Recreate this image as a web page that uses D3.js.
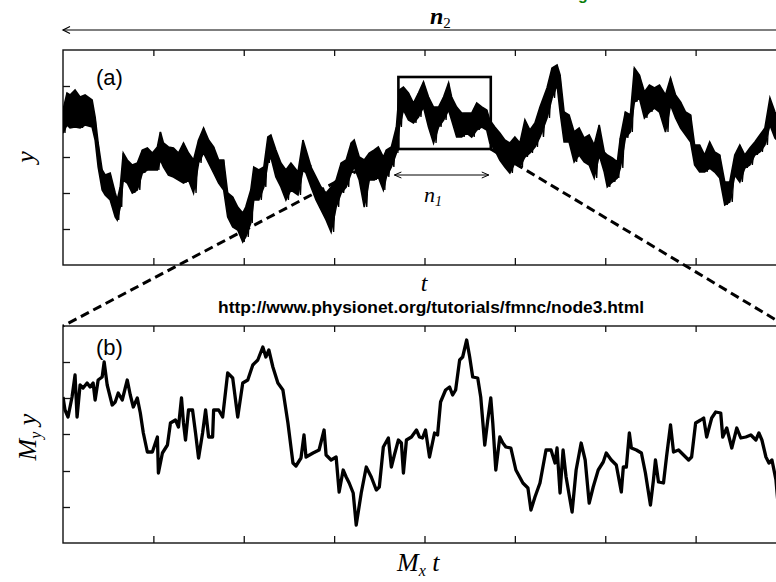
<!DOCTYPE html>
<html><head><meta charset="utf-8">
<script src="https://cdn.jsdelivr.net/npm/d3@7"></script>
<style>html,body{margin:0;padding:0;background:#fff;overflow:hidden}</style>
</head><body>
<svg id="c" width="776" height="582"></svg>
<script>
// Panel (a): time positions and upper / lower envelope of the noisy trace
const tA=[0,4,7,12,17,22,29,32,35,39,42,47,52,54,57,60,64,69,74,79,84,89,94,97,100,105,110,115,120,125,130,135,140,145,150,155,160,164,169,174,179,182,187,190,195,200,204,207,212,217,222,227,234,239,242,247,252,257,262,267,272,277,282,287,290,295,300,305,310,314,319,322,327,332,335,339,344,349,354,359,364,369,374,379,384,387,392,397,402,407,412,417,422,425,430,435,440,445,450,455,460,465,470,475,482,487,492,495,499,504,509,514,519,524,529,534,539,542,547,552,555,560,565,569,574,579,584,589,594,600,605,610,615,620,625,629,634,639,644,649,654,659,664,669,674,679,684,689,694,699,704,709,713,720];
const hiA=[155,172,170,175,168,170,165,148,122,95,90,92,72,65,78,112,105,100,102,115,117,112,118,133,122,118,117,112,122,112,105,125,137,125,118,105,105,72,68,58,52,58,75,98,95,98,128,130,115,102,95,102,93,125,115,98,88,78,72,78,85,102,105,122,125,108,105,112,115,118,108,115,118,138,175,178,172,162,172,183,168,158,158,168,182,168,158,152,152,152,162,158,155,145,138,132,125,122,128,122,145,135,142,158,177,197,200,190,153,150,133,137,127,130,120,140,113,110,107,103,127,153,150,197,190,173,180,177,180,170,187,170,163,153,150,120,120,110,123,113,110,83,83,110,120,110,117,123,130,137,167,153,143,140];
const loA=[132,140,137,138,137,140,138,125,98,75,70,65,48,45,58,85,82,72,75,92,95,95,95,105,98,90,88,85,82,85,72,102,112,102,92,82,75,48,38,35,23,28,42,65,65,78,102,108,88,78,65,75,70,95,92,78,65,55,45,33,58,72,78,92,98,85,58,85,85,88,75,88,98,112,138,155,145,142,148,158,138,122,138,145,155,145,128,128,132,128,135,138,135,122,115,105,98,92,102,98,108,112,118,128,147,167,180,153,123,123,103,110,103,100,87,110,93,78,83,87,97,127,133,163,167,147,153,157,153,133,160,147,137,130,123,100,93,93,97,93,87,60,63,90,83,97,100,110,113,120,140,127,123,118];
// Panel (b): magnified trace
const tB=[0,2,5,9,12,14,17,20,24,27,30,32,35,39,41,44,49,52,55,59,64,67,70,74,77,80,84,89,94,95,99,104,107,112,115,118,120,122,125,129,132,135,139,142,145,149,150,155,159,164,169,174,179,184,189,194,199,202,205,209,214,219,224,229,232,237,240,242,249,255,260,262,267,272,275,279,282,285,289,292,297,302,307,312,315,319,324,327,330,334,337,339,342,347,352,355,358,361,365,370,373,376,381,385,388,391,395,398,402,405,408,413,416,420,423,426,428,431,435,438,441,446,451,458,463,466,470,475,481,486,490,492,495,498,501,507,511,516,520,524,528,533,538,541,546,551,556,558,561,564,566,571,576,580,585,588,590,593,598,601,605,608,613,618,623,626,630,635,638,641,646,650,655,657,661,666,671,675,680,685,690,693,696,700,703,706,710,712,717];
const vB=[146,133,126,146,168,126,158,155,160,156,160,143,163,166,181,158,138,141,150,143,163,148,136,145,130,110,91,91,106,70,90,98,120,123,116,145,120,103,133,133,110,85,110,133,106,106,133,133,126,170,165,126,160,163,178,183,196,186,193,176,160,153,120,80,77,85,108,86,90,93,113,88,83,86,51,73,66,60,50,18,50,76,66,53,56,96,105,76,88,103,100,70,103,106,113,106,105,113,86,110,108,141,153,156,148,153,183,186,203,186,166,165,146,98,123,145,120,73,106,100,96,95,73,60,55,33,46,60,93,93,80,95,50,93,66,31,73,100,83,40,56,73,81,90,83,78,51,76,76,110,95,93,90,70,38,63,83,61,60,86,118,91,93,88,83,86,120,123,125,106,125,131,130,106,115,95,115,105,106,108,103,110,103,86,80,83,63,40,30];
// ticks (no labels in original)
const xTicks=[90,180,270,360,450,540,630];
const yTicksA=[36,72,108,143,179];
const yTicksB=[36,72,109,145,181];
// annotation: window n1 inside panel (a)
const boxT=[334,426], boxV=[116,188];
const n1T=[330,424], n1V=90;
const tDomain=[0,720], vDomainA=[0,215], vDomainB=[0,217];
const txt={n:"n",n2sub:"2",n1sub:"1",t:"t",url:"http://www.physionet.org/tutorials/fmnc/node3.html",a:"(a)",b:"(b)",y:"y",M:"M",xsub:"x",ysub:"y"};

const svg=d3.select('#c');
const x=d3.scaleLinear().domain(tDomain).range([63,786]);
const yA=d3.scaleLinear().domain(vDomainA).range([265,50]);
const yB=d3.scaleLinear().domain(vDomainB).range([543,326]);
const serif="'Liberation Serif','Times New Roman',serif";
const sans="'Liberation Sans',Arial,sans-serif";

const defs=svg.append('defs');
defs.append('clipPath').attr('id','ca').append('rect').attr('x',63).attr('y',50).attr('width',723).attr('height',215);
defs.append('clipPath').attr('id','cb').append('rect').attr('x',63).attr('y',326).attr('width',723).attr('height',217);

// green cut-off text at very top (cut off in the reference too)
svg.append('text').attr('x',578).attr('y',0).attr('font-family',sans).attr('font-weight','bold').attr('font-size',16).attr('fill','#0b7d0b').text('g');

// n2 arrow
const n2y=30;
svg.append('line').attr('x1',x(tDomain[0])).attr('x2',x(tDomain[1])).attr('y1',n2y).attr('y2',n2y).attr('stroke','#000').attr('stroke-width',1.2);
svg.append('path').attr('d',`M${x(0)+7},${n2y-3.5}L${x(0)},${n2y}L${x(0)+7},${n2y+3.5}`).attr('fill','none').attr('stroke','#000').attr('stroke-width',1.2);
const n2=svg.append('text').attr('x',430).attr('y',24).attr('font-family',serif).attr('font-size',24);
n2.append('tspan').attr('font-style','italic').attr('font-weight','bold').text(txt.n);
n2.append('tspan').attr('font-size',15).attr('dy',4).text(txt.n2sub);

function panel(y, ticksY){
  const g=svg.append('g');
  const top=y.range()[1], bot=y.range()[0];
  const ax1=g.append('g').attr('transform',`translate(0,${bot})`).call(d3.axisBottom(x).tickValues(xTicks).tickSize(-7).tickFormat(''));
  const ax2=g.append('g').attr('transform',`translate(0,${top})`).call(d3.axisTop(x).tickValues(xTicks).tickSize(-6).tickFormat(''));
  const ax3=g.append('g').attr('transform',`translate(${x(0)},0)`).call(d3.axisLeft(y).tickValues(ticksY).tickSize(-7).tickFormat(''));
  [ax1,ax2,ax3].forEach(a=>{a.select('.domain').remove();a.selectAll('line').attr('stroke','#111').attr('stroke-width',1.3);});
  g.append('rect').attr('x',x(0)).attr('y',top).attr('width',x(tDomain[1])-x(0)).attr('height',bot-top).attr('fill','none').attr('stroke','#111').attr('stroke-width',1.4);
}
panel(yA,yTicksA);
panel(yB,yTicksB);

// panel (a) trace
const idxA=d3.range(tA.length);
const area=d3.area().x(i=>x(tA[i])).y0(i=>yA(loA[i])).y1(i=>yA(hiA[i]));
svg.append('path').attr('clip-path','url(#ca)').attr('d',area(idxA)).attr('fill','#000').attr('stroke','#000').attr('stroke-width',1.6).attr('stroke-linejoin','miter');
const zz=[];
idxA.forEach(i=>{zz.push([x(tA[i]),yA(hiA[i])]); if(i<tA.length-1) zz.push([x((tA[i]+tA[i+1])/2),yA(loA[i])]);});
svg.append('path').attr('clip-path','url(#ca)').attr('d',d3.line()(zz)).attr('fill','none').attr('stroke','#000').attr('stroke-width',1.3);

// panel (b) trace
svg.append('path').attr('clip-path','url(#cb)').attr('d',d3.line().x((d,i)=>x(tB[i])).y(d=>yB(d))(vB)).attr('fill','none').attr('stroke','#000').attr('stroke-width',3.3).attr('stroke-linejoin','round');

// window box n1
svg.append('rect').attr('x',x(boxT[0])).attr('y',yA(boxV[1])).attr('width',x(boxT[1])-x(boxT[0])).attr('height',yA(boxV[0])-yA(boxV[1])).attr('fill','none').attr('stroke','#000').attr('stroke-width',2.6);
// dashed zoom lines
svg.append('line').attr('x1',x(boxT[0])).attr('y1',yA(boxV[0])).attr('x2',x(tDomain[0])).attr('y2',yB(vDomainB[1])).attr('stroke','#000').attr('stroke-width',3).attr('stroke-dasharray','9,5');
svg.append('line').attr('x1',x(boxT[1])).attr('y1',yA(boxV[0])).attr('x2',x(tDomain[1])).attr('y2',yB(vDomainB[1])).attr('stroke','#000').attr('stroke-width',3).attr('stroke-dasharray','9,5');
// n1 arrow
const ay=yA(n1V), ax0=x(n1T[0]), ax1=x(n1T[1]);
svg.append('line').attr('x1',ax0).attr('x2',ax1).attr('y1',ay).attr('y2',ay).attr('stroke','#000').attr('stroke-width',1);
svg.append('path').attr('d',`M${ax0+7},${ay-3}L${ax0},${ay}L${ax0+7},${ay+3}M${ax1-7},${ay-3}L${ax1},${ay}L${ax1-7},${ay+3}`).attr('fill','none').attr('stroke','#000').attr('stroke-width',1);
const n1=svg.append('text').attr('x',424).attr('y',202).attr('font-family',serif).attr('font-size',22);
n1.append('tspan').attr('font-style','italic').text(txt.n);
n1.append('tspan').attr('font-style','italic').attr('font-size',14).attr('dy',4).text(txt.n1sub);

// panel labels
svg.append('text').attr('x',96).attr('y',85).attr('font-family',sans).attr('font-size',22).text(txt.a);
svg.append('text').attr('x',96).attr('y',355).attr('font-family',sans).attr('font-size',22).text(txt.b);

// axis titles
svg.append('text').attr('x',424).attr('y',291).attr('font-family',serif).attr('font-style','italic').attr('font-size',24).attr('text-anchor','middle').text(txt.t);
svg.append('text').attr('x',431).attr('y',313).attr('font-family',sans).attr('font-weight','bold').attr('font-size',17).attr('text-anchor','middle').attr('textLength',426).attr('lengthAdjust','spacingAndGlyphs').text(txt.url);
svg.append('text').attr('transform','translate(34,157) rotate(-90)').attr('font-family',serif).attr('font-style','italic').attr('font-size',26).attr('text-anchor','middle').text(txt.y);
const my=svg.append('text').attr('transform','translate(36,437) rotate(-90)').attr('font-family',serif).attr('font-size',26).attr('text-anchor','middle');
my.append('tspan').attr('font-style','italic').text(txt.M);
my.append('tspan').attr('font-style','italic').attr('font-size',16).attr('dy',5).text(txt.ysub);
my.append('tspan').attr('font-style','italic').attr('dy',-5).text(' '+txt.y);
const mx=svg.append('text').attr('x',397).attr('y',571).attr('font-family',serif).attr('font-size',26);
mx.append('tspan').attr('font-style','italic').text(txt.M);
mx.append('tspan').attr('font-style','italic').attr('font-size',16).attr('dy',5).text(txt.xsub);
mx.append('tspan').attr('font-style','italic').attr('dy',-5).text(' '+txt.t);
</script>
</body></html>
